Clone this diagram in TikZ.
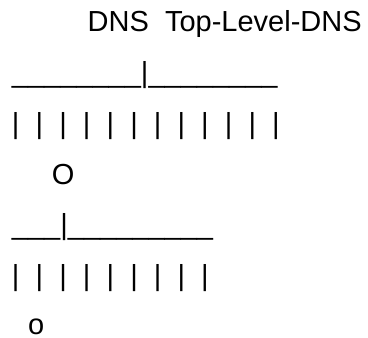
\documentclass[tikz,border=0pt]{standalone}
\usepackage{fontspec}
\setmainfont{Liberation Sans}
\begin{document}
\begin{tikzpicture}[x=1pt,y=-1pt,
  textline/.style={anchor=base west, inner sep=0pt, outer sep=0pt,
    font=\fontsize{29}{29}\selectfont}]
\useasboundingbox (0,0) rectangle (368,338);
% title row
\node[textline] (title) at (87.7,31) {DNS~~Top-Level-DNS};
% first branch: root line and twelve drops
\node[textline] (bar1) at (12,82.3) {\_\_\_\_\_\_\_\_|\_\_\_\_\_\_\_\_};
\node[textline] (drops1) at (12,133) {|~~|~~|~~|~~|~~|~~|~~|~~|~~|~~|~~|};
\node[textline] (bigO) at (52,184.3) {O};
% second branch: root line and nine drops
\node[textline] (bar2) at (12,234.6) {\_\_\_|\_\_\_\_\_\_\_\_\_};
\node[textline] (drops2) at (12,285.3) {|~~|~~|~~|~~|~~|~~|~~|~~|};
\node[textline] (smallo) at (28,334.5) {o};
\end{tikzpicture}
\end{document}
